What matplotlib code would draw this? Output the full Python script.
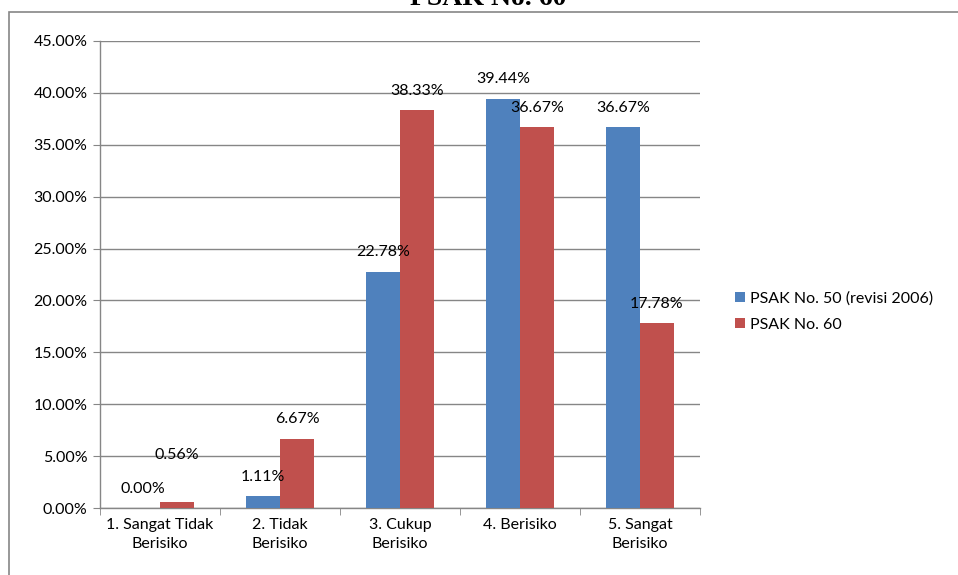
import matplotlib.pyplot as plt
from matplotlib.patches import Rectangle
from matplotlib.ticker import FixedLocator, MultipleLocator
import numpy as np

categories = ["1. Sangat Tidak\nBerisiko", "2. Tidak\nBerisiko", "3. Cukup\nBerisiko",
              "4. Berisiko", "5. Sangat\nBerisiko"]
psak50 = [0.00, 1.11, 22.78, 39.44, 36.67]
psak60 = [0.56, 6.67, 38.33, 36.67, 17.78]
series_names = ["PSAK No. 50 (revisi 2006)", "PSAK No. 60"]

plt.rcParams['font.family'] = ['Lato', 'DejaVu Sans']
grey = '#868686'
fs = 11.5

fig = plt.figure(figsize=(9.58, 5.75), dpi=100)
ax = fig.add_axes([0.1044, 0.1165, 0.6263, 0.8122])

# outer chart frame (cut at the right and bottom edges of the picture)
fig.patches.append(Rectangle((9 / 958, -0.1), 1.2, 1.1 - 12 / 575, transform=fig.transFigure,
                             fill=False, edgecolor=grey, linewidth=1.2))

# title of the page above the chart, only its lower edge shows
fig.text(488 / 958, 1 - 5 / 575, "PSAK No. 60", ha='center', va='baseline',
         fontsize=20, fontweight='bold', family='Liberation Serif')

x = np.arange(len(categories))
w = 0.283
b1 = ax.bar(x - w / 2, psak50, w, color='#4F81BD', label=series_names[0], zorder=3)
b2 = ax.bar(x + w / 2, psak60, w, color='#C0504D', label=series_names[1], zorder=3)

for bars, vals in ((b1, psak50), (b2, psak60)):
    for bar, v in zip(bars, vals):
        off = 9
        if v == 0.56:
            off = 29
        ax.annotate(f"{v:.2f}%", (bar.get_x() + bar.get_width() / 2, v),
                    xytext=(0, off), textcoords='offset points',
                    ha='center', va='bottom', fontsize=fs, zorder=4)

ax.set_xlim(-0.5, len(categories) - 0.5)
ax.set_ylim(0, 45)
ax.yaxis.set_major_locator(MultipleLocator(5))
ax.set_yticklabels([f"{t:.2f}%" for t in ax.get_yticks()])
ax.set_xticks(x)
ax.set_xticklabels(categories, fontsize=fs, linespacing=1.45)
ax.xaxis.set_minor_locator(FixedLocator(np.arange(-0.5, len(categories), 1)))
ax.tick_params(axis='x', which='major', length=0, pad=7)
ax.tick_params(axis='x', which='minor', length=5, color=grey, direction='out')
ax.tick_params(axis='y', length=5, color=grey, labelsize=fs, pad=4)

ax.grid(axis='y', color=grey, linewidth=1, zorder=0)
for s in ('top', 'right'):
    ax.spines[s].set_visible(False)
for s in ('left', 'bottom'):
    ax.spines[s].set_color(grey)
    ax.spines[s].set_linewidth(1)

ax.legend(loc='center left', bbox_to_anchor=(1.035, 0.42), frameon=False,
          fontsize=fs, handlelength=0.6, handleheight=0.6, handletextpad=0.3,
          labelspacing=0.75)

fig.savefig("out.png", dpi=100)
